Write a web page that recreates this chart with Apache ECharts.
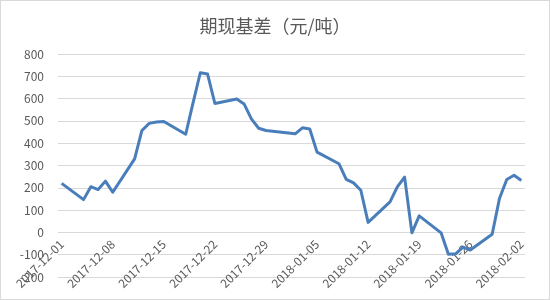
<!DOCTYPE html>
<html>
<head>
<meta charset="utf-8">
<script src="https://cdn.jsdelivr.net/npm/echarts@6/dist/echarts.min.js"></script>
<style>
html,body{margin:0;padding:0;background:#fff;}
#c{width:550px;height:300px;box-sizing:border-box;border:1px solid #d9d9d9;}
</style>
</head>
<body>
<div id="c"></div>
<script>
// Trading days and basis values (元/吨)
var tradeDates = [
 "2017-12-01","2017-12-04","2017-12-05","2017-12-06","2017-12-07","2017-12-08",
 "2017-12-11","2017-12-12","2017-12-13","2017-12-14","2017-12-15",
 "2017-12-18","2017-12-19","2017-12-20","2017-12-21","2017-12-22",
 "2017-12-25","2017-12-26","2017-12-27","2017-12-28","2017-12-29",
 "2018-01-02","2018-01-03","2018-01-04","2018-01-05",
 "2018-01-08","2018-01-09","2018-01-10","2018-01-11","2018-01-12",
 "2018-01-15","2018-01-16","2018-01-17","2018-01-18","2018-01-19",
 "2018-01-22","2018-01-23","2018-01-24","2018-01-25","2018-01-26",
 "2018-01-29","2018-01-30","2018-01-31","2018-02-01","2018-02-02"
];
var basisValues = [
 220,147,205,192,230,180,
 330,457,489,495,497,
 440,580,716,710,578,
 598,576,509,467,457,
 442,469,464,360,
 308,238,222,189,45,
 137,204,248,-2,74,
 -2,-98,-96,-66,-79,
 -8,152,237,256,233
];
var axisStart = "2017-12-01";
var axisEnd = "2018-02-02";
var yTicks = {min:-200, max:800, interval:100};
var titleText = "期现基差（元/吨）";

// Build a daily (date-axis) category list and map values onto it
function fmt(d){
  var m = d.getUTCMonth()+1, dd = d.getUTCDate();
  return d.getUTCFullYear()+"-"+(m<10?"0":"")+m+"-"+(dd<10?"0":"")+dd;
}
var days = [];
for (var t = Date.parse(axisStart+"T00:00:00Z"); t <= Date.parse(axisEnd+"T00:00:00Z"); t += 86400000) {
  days.push(fmt(new Date(t)));
}
var lookup = {};
tradeDates.forEach(function(d,i){ lookup[d] = basisValues[i]; });
var seriesData = days.map(function(d){ return lookup.hasOwnProperty(d) ? lookup[d] : null; });

var chart = echarts.init(document.getElementById('c'), null, {renderer:'canvas'});
var font = '"Noto Sans CJK SC", "Liberation Sans", sans-serif';
chart.setOption({
  animation:false,
  backgroundColor:'#ffffff',
  title:{
    text:titleText, left:'center', top:11,
    textStyle:{fontFamily:font, fontSize:18, fontWeight:'normal', color:'#595959'}
  },
  grid:{left:57, right:24, top:53, bottom:22, containLabel:false, outerBoundsMode:'none'},
  xAxis:{
    type:'category', data:days, boundaryGap:true, offset:-45,
    axisLine:{show:false, onZero:false},
    axisTick:{show:false},
    axisLabel:{interval:6, rotate:45, margin:10, color:'#595959', fontSize:12, fontFamily:font},
    splitLine:{show:false}
  },
  yAxis:{
    type:'value', min:yTicks.min, max:yTicks.max, interval:yTicks.interval,
    axisLine:{show:false}, axisTick:{show:false},
    axisLabel:{margin:14, color:'#595959', fontSize:12, fontFamily:font},
    splitLine:{show:true, lineStyle:{color:'#d9d9d9', width:1}}
  },
  series:[{
    type:'line', data:seriesData, connectNulls:true, showSymbol:false, symbol:'none',
    lineStyle:{color:'#4a7ebb', width:3, join:'round'}
  }]
});
</script>
</body>
</html>
